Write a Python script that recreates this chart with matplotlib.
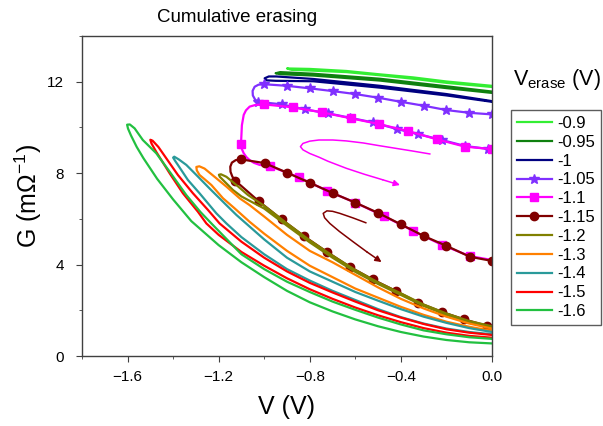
import numpy as np
import matplotlib
matplotlib.use('Agg')
import matplotlib.pyplot as plt
from matplotlib.ticker import MultipleLocator

plt.rcParams['font.family'] = ['Liberation Sans', 'DejaVu Sans']
plt.rcParams['mathtext.fontset'] = 'custom'
plt.rcParams['mathtext.rm'] = 'Liberation Sans'
plt.rcParams['mathtext.it'] = 'Liberation Sans:italic'

# ---- data: G (mOhm^-1) vs V (V), one sweep loop per erase voltage ----
# thin loops near the top (forward branch then return branch)
v_090 = [0, -0.2, -0.347, -0.5, -0.639, -0.8, -0.9, -0.88, -0.8, -0.639, -0.5, -0.347, -0.2, 0]
g_090 = [11.82, 12.01, 12.19, 12.33, 12.47, 12.56, 12.58, 12.52, 12.49, 12.42, 12.29, 12.13, 11.95, 11.77]

v_095 = [0, -0.2, -0.492, -0.785, -0.93, -0.95, -0.93, -0.785, -0.492, -0.2, 0]
g_095 = [11.57, 11.80, 12.13, 12.35, 12.42, 12.37, 12.33, 12.27, 12.05, 11.72, 11.51]

v_100 = [0, -0.2, -0.492, -0.785, -0.947, -0.98, -0.998, -0.99, -0.95, -0.785, -0.492, -0.2, 0]
g_100 = [11.15, 11.46, 11.82, 12.12, 12.23, 12.23, 12.15, 12.06, 12.04, 12.02, 11.74, 11.40, 11.12]

v_105 = [0, -0.1, -0.2, -0.3, -0.4, -0.5, -0.6, -0.7, -0.8, -0.9, -1.0,
         -1.025, -1.042, -1.051, -1.05, -1.04,
         -1.027, -0.923, -0.822, -0.721, -0.622, -0.523, -0.418, -0.325, -0.22, -0.119, -0.018, 0]
g_105 = [10.57, 10.64, 10.76, 10.95, 11.12, 11.30, 11.46, 11.59, 11.71, 11.82, 11.89,
         11.87, 11.78, 11.60, 11.40, 11.22,
         11.12, 11.01, 10.79, 10.62, 10.42, 10.22, 9.93, 9.71, 9.45, 9.19, 9.06, 9.05]
mk_105 = list(range(0, 11)) + list(range(16, 27))

v_110 = [0, -0.119, -0.242, -0.369, -0.497, -0.62, -0.747, -0.875, -1.002,
         -1.04, -1.064, -1.08, -1.09, -1.098, -1.102, -1.098, -1.09, -1.078, -1.064, -1.045, -1.02,
         -0.976, -0.848, -0.725, -0.6, -0.475, -0.347, -0.22, -0.097, 0]
g_110 = [9.05, 9.16, 9.48, 9.84, 10.15, 10.40, 10.66, 10.88, 11.01,
         10.98, 10.91, 10.75, 10.55, 10.10, 9.27, 9.05, 8.87, 8.70, 8.57, 8.45, 8.36,
         8.31, 7.82, 7.23, 6.71, 6.12, 5.48, 4.86, 4.37, 4.20]
mk_110 = list(range(0, 9)) + [14] + list(range(21, 29))

v_115 = [0, -0.097, -0.2, -0.3, -0.4, -0.5, -0.6, -0.7, -0.8, -0.9, -0.998, -1.10,
         -1.125, -1.142, -1.149, -1.148, -1.14,
         -1.127, -1.024, -0.924, -0.825, -0.724, -0.624, -0.524, -0.423, -0.324, -0.221, -0.122, -0.021, 0]
g_115 = [4.16, 4.34, 4.82, 5.25, 5.76, 6.26, 6.71, 7.13, 7.58, 8.02, 8.44, 8.60,
         8.57, 8.46, 8.28, 8.06, 7.85,
         7.67, 6.77, 5.98, 5.24, 4.55, 3.90, 3.35, 2.85, 2.34, 1.93, 1.60, 1.32, 1.27]
mk_115 = list(range(0, 12)) + list(range(17, 29))

# wide loops (inner branch up to the tip, outer branch back)
v_120 = [0, -0.1, -0.2, -0.3, -0.4, -0.5, -0.6, -0.7, -0.8, -0.9, -1.0, -1.071, -1.122, -1.166, -1.19, -1.199,
         -1.195, -1.181, -1.137, -1.1, -1.0, -0.9, -0.8, -0.7, -0.6, -0.5, -0.4, -0.3, -0.2, -0.1, 0]
g_120 = [1.30, 1.53, 1.86, 2.25, 2.74, 3.22, 3.76, 4.39, 5.06, 5.80, 6.57, 7.04, 7.48, 7.84, 7.95, 7.93,
         7.84, 7.70, 7.26, 6.98, 6.45, 5.70, 4.97, 4.30, 3.68, 3.15, 2.67, 2.19, 1.80, 1.48, 1.25]

v_130 = [0, -0.1, -0.2, -0.3, -0.4, -0.5, -0.6, -0.7, -0.8, -0.9, -1.0, -1.064, -1.108, -1.166, -1.218, -1.262,
         -1.285, -1.298, -1.296,
         -1.284, -1.26, -1.232, -1.181, -1.13, -1.064, -1.0, -0.9, -0.8, -0.7, -0.6, -0.5, -0.4, -0.3, -0.2, -0.1, 0]
g_130 = [1.20, 1.42, 1.72, 2.08, 2.50, 3.00, 3.55, 4.10, 4.60, 5.30, 6.10, 6.60, 6.90, 7.41, 7.84, 8.20,
         8.30, 8.27, 8.12,
         7.92, 7.72, 7.48, 6.90, 6.46, 5.87, 5.35, 4.60, 3.95, 3.45, 2.95, 2.55, 2.15, 1.80, 1.50, 1.28, 1.10]

v_140 = [0, -0.1, -0.2, -0.3, -0.4, -0.5, -0.6, -0.7, -0.8, -0.9, -1.0, -1.122, -1.166, -1.24, -1.298, -1.342, -1.375, -1.395,
         -1.40, -1.39, -1.379, -1.335, -1.284, -1.21, -1.166, -1.1, -1.0, -0.9, -0.8, -0.7, -0.6, -0.5, -0.4, -0.3, -0.2, -0.1, 0]
g_140 = [1.05, 1.22, 1.45, 1.72, 2.05, 2.42, 2.80, 3.25, 3.70, 4.30, 5.10, 6.17, 6.60, 7.33, 7.92, 8.36, 8.60, 8.72,
         8.68, 8.52, 8.36, 7.70, 7.12, 6.24, 5.80, 5.20, 4.45, 3.80, 3.30, 2.85, 2.45, 2.05, 1.70, 1.42, 1.20, 1.05, 0.95]

v_150 = [0, -0.1, -0.2, -0.3, -0.4, -0.5, -0.6, -0.7, -0.8, -0.9, -1.0, -1.1, -1.196, -1.247, -1.313, -1.379, -1.43, -1.465, -1.49,
         -1.50, -1.495, -1.474, -1.415, -1.357, -1.291, -1.254, -1.2, -1.1, -1.0, -0.9, -0.8, -0.7, -0.6, -0.5, -0.4, -0.3, -0.2, -0.1, 0]
g_150 = [0.92, 1.02, 1.17, 1.40, 1.68, 2.00, 2.38, 2.78, 3.20, 3.70, 4.30, 5.00, 5.80, 6.39, 7.12, 7.92, 8.65, 9.15, 9.42,
         9.46, 9.30, 8.93, 7.99, 7.12, 6.31, 5.80, 5.30, 4.55, 3.95, 3.40, 2.92, 2.50, 2.12, 1.78, 1.48, 1.22, 1.02, 0.88, 0.80]

v_160 = [0, -0.1, -0.2, -0.3, -0.4, -0.5, -0.6, -0.7, -0.8, -0.9, -1.0, -1.1, -1.232, -1.28, -1.342, -1.415, -1.474, -1.533, -1.569, -1.59,
         -1.602, -1.598, -1.585, -1.56, -1.53, -1.47, -1.40, -1.32, -1.28, -1.2, -1.1, -1.0, -0.9, -0.8, -0.7, -0.6, -0.5, -0.4, -0.3, -0.2, -0.1, 0]
g_160 = [0.75, 0.82, 0.95, 1.12, 1.38, 1.68, 2.02, 2.38, 2.80, 3.25, 3.80, 4.45, 5.80, 6.30, 7.04, 8.06, 8.87, 9.45, 9.96, 10.13,
         10.12, 9.95, 9.65, 9.15, 8.65, 7.75, 6.85, 5.90, 5.55, 4.85, 4.10, 3.45, 2.85, 2.35, 1.95, 1.60, 1.30, 1.05, 0.85, 0.70, 0.60, 0.55]

# guide arrows (sweep direction)
v_arrow_m = [-0.273, -0.35, -0.419, -0.5, -0.565, -0.64, -0.699, -0.76, -0.80, -0.83, -0.841,
             -0.83, -0.80, -0.76, -0.72, -0.639, -0.56, -0.48, -0.404]
g_arrow_m = [8.84, 8.97, 9.08, 9.21, 9.32, 9.41, 9.45, 9.45, 9.40, 9.30, 9.16,
             9.02, 8.86, 8.70, 8.52, 8.21, 7.95, 7.71, 7.48]
v_arrow_r = [-0.554, -0.61, -0.668, -0.70, -0.725, -0.741, -0.735, -0.712, -0.67, -0.61, -0.55, -0.485]
g_arrow_r = [5.83, 6.04, 6.24, 6.33, 6.35, 6.24, 6.05, 5.80, 5.45, 5.00, 4.56, 4.11]

labels = ['-0.9', '-0.95', '-1', '-1.05', '-1.1', '-1.15', '-1.2', '-1.3', '-1.4', '-1.5', '-1.6']
colors = ['#33ee33', '#0f800f', '#000080', '#8030ff', '#ff00ff', '#800000',
          '#808000', '#ff8000', '#2a9a9a', '#ff0000', '#22c040']

fig = plt.figure(figsize=(6.03, 4.26), dpi=100)
ax = fig.add_axes([82 / 603, 1 - 356 / 426, 410 / 603, 320 / 426])

lw = 1.6
ax.plot(v_090, g_090, color=colors[0], lw=lw, label=labels[0])
ax.plot(v_095, g_095, color=colors[1], lw=lw, label=labels[1])
ax.plot(v_100, g_100, color=colors[2], lw=lw, label=labels[2])
ax.plot(v_105, g_105, color=colors[3], lw=lw, marker='*', ms=7, markevery=mk_105, label=labels[3])
ax.plot(v_110, g_110, color=colors[4], lw=lw, marker='s', ms=5.5, markevery=mk_110, label=labels[4])
ax.plot(v_115, g_115, color=colors[5], lw=lw, marker='o', ms=6, markevery=mk_115, label=labels[5])
ax.plot(v_120, g_120, color=colors[6], lw=lw, label=labels[6])
ax.plot(v_130, g_130, color=colors[7], lw=lw, label=labels[7])
ax.plot(v_140, g_140, color=colors[8], lw=lw, label=labels[8])
ax.plot(v_150, g_150, color=colors[9], lw=lw, label=labels[9])
ax.plot(v_160, g_160, color=colors[10], lw=lw, label=labels[10])

# arrows showing sweep direction
for vv, gg, c in [(v_arrow_m, g_arrow_m, colors[4]), (v_arrow_r, g_arrow_r, colors[5])]:
    ax.plot(vv[:-1], gg[:-1], color=c, lw=1.1)
    ax.annotate('', xy=(vv[-1], gg[-1]), xytext=(vv[-2], gg[-2]),
                arrowprops=dict(arrowstyle='-|>', color=c, lw=1.1, mutation_scale=9,
                                shrinkA=0, shrinkB=0))

ax.set_xlim(-1.8, 0.0)
ax.set_ylim(0, 14)
ax.xaxis.set_minor_locator(MultipleLocator(0.2))
ax.yaxis.set_major_locator(MultipleLocator(4))
ax.yaxis.set_minor_locator(MultipleLocator(2))
ax.set_xticks([-1.6, -1.2, -0.8, -0.4, 0.0])
ax.tick_params(which='both', direction='out', top=False, right=False, labelsize=11, color='#404040')
ax.tick_params(which='major', length=4)
ax.tick_params(which='minor', length=2.5)
ax.tick_params(axis='x', pad=6)
ax.tick_params(axis='y', pad=9)
for s in ax.spines.values():
    s.set_color('#404040')
    s.set_linewidth(1.0)

ax.set_xlabel('V (V)', fontsize=18, labelpad=8)
ax.set_ylabel(r'G (m$\Omega^{-1}$)', fontsize=18, labelpad=2)

fig.text(237 / 603, 1 - 17 / 426, 'Cumulative erasing', fontsize=13.5, ha='center', va='center')
fig.text(557 / 603, 1 - 80 / 426, r'V$_{\rm erase}$ (V)', fontsize=15.5, ha='center', va='center')

leg = ax.legend(loc='upper left', bbox_to_anchor=(511 / 603, 1 - 110 / 426),
                bbox_transform=fig.transFigure, fontsize=12, frameon=True, fancybox=False,
                borderaxespad=0, borderpad=0.35, handlelength=2.1, handletextpad=0.3,
                labelspacing=0.23, numpoints=1)
leg.get_frame().set_edgecolor('#333333')
leg.get_frame().set_linewidth(1.0)

plt.savefig('out.png', dpi=100)
